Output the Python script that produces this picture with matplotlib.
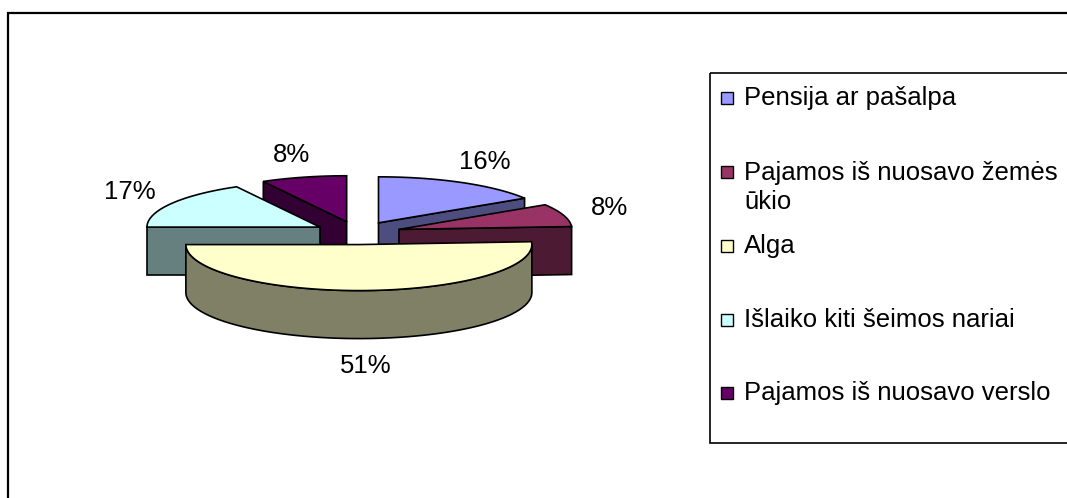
#!/usr/bin/env python3

import numpy as np
import matplotlib
matplotlib.use('Agg')
import matplotlib.pyplot as plt
from matplotlib.patches import Polygon, Rectangle

plt.rcParams['font.family'] = ['Liberation Sans', 'DejaVu Sans']

# data
categories = ['Pensija ar pašalpa', 'Pajamos iš nuosavo žemės\nūkio', 'Alga',
              'Išlaiko kiti šeimos nariai', 'Pajamos iš nuosavo verslo']
shares = np.array([16, 8, 51, 17, 8])
pct_labels = ['16%', '8%', '51%', '17%', '8%']
top_colors = ['#9999FF', '#993366', '#FFFFCC', '#CCFFFF', '#660066']
side_colors = ['#4D4D80', '#4D1A33', '#808066', '#668080', '#330033']

# layout (pixels)
W, H = 1067, 498
CX, CY = 357.5, 233.0
RX, RY = 173.0, 46.0
DEPTH = 48.0
EXPLODE = 0.252
FS = 18.5

fig = plt.figure(figsize=(W / 100, H / 100), dpi=100)
ax = fig.add_axes([0, 0, 1, 1])
ax.set_xlim(0, W)
ax.set_ylim(H, 0)
ax.axis('off')


def project(r, theta, z, off):
    ''' theta in degrees, clockwise from 12 o'clock '''
    phi = np.radians(theta)
    x = r * np.sin(phi) + off[0]
    y = r * np.cos(phi) + off[1]
    return (CX + RX * x, CY - RY * y + DEPTH * z)


def arc(t_a, t_b, z, off, n=80):
    return [project(1, t, z, off) for t in np.linspace(t_a, t_b, n)]


def add_poly(pts, color):
    ax.add_patch(Polygon(pts, closed=True, fc=color, ec='black', lw=1.2,
                         joinstyle='miter'))


total = shares.sum()
bounds = np.concatenate([[0], np.cumsum(shares)]) / total * 360
slices = []
for i in range(len(shares)):
    t1, t2 = bounds[i], bounds[i + 1]
    mid = 0.5 * (t1 + t2)
    off = (EXPLODE * np.sin(np.radians(mid)), EXPLODE * np.cos(np.radians(mid)))
    slices.append((i, t1, t2, mid, off))

# back slices first
for i, t1, t2, mid, off in sorted(slices, key=lambda s: -np.cos(np.radians(s[3]))):
    tip_top = project(0, 0, 0, off)
    tip_bot = project(0, 0, 1, off)
    # cut faces
    if np.sin(np.radians(t1)) < -1e-6:
        add_poly([tip_top, project(1, t1, 0, off), project(1, t1, 1, off), tip_bot], side_colors[i])
    if np.sin(np.radians(t2)) > 1e-6:
        add_poly([tip_top, project(1, t2, 0, off), project(1, t2, 1, off), tip_bot], side_colors[i])
    # outer wall, front half only
    a, b = max(t1, 90), min(t2, 270)
    if a < b:
        add_poly(arc(a, b, 0, off) + arc(b, a, 1, off), side_colors[i])
    # top
    add_poly([tip_top] + arc(t1, t2, 0, off), top_colors[i])

    # percentage label
    s, c = np.sin(np.radians(mid)), np.cos(np.radians(mid))
    lx = CX + RX * (off[0] + 1.28 * s)
    ly = CY - RY * (off[1] + 1.5 * c) + (DEPTH + 4 if c < 0 else 0)
    ax.text(lx, ly, pct_labels[i], fontsize=FS, ha='center', va='center')

# chart frame
ax.plot([8, 8, W + 10], [H + 10, 13, 13], color='black', lw=1.6, solid_joinstyle='miter')

# legend
ax.add_patch(Rectangle((710, 73), 420, 370, fill=False, ec='black', lw=1.2))
legend_y = [97.5, 187.5, 246, 320, 393]
for label, y, color in zip(categories, legend_y, top_colors):
    nlines = label.count('\n') + 1
    my = y - (nlines - 1) * 15.5
    ax.add_patch(Rectangle((721, my - 6), 12, 12, fc=color, ec='black', lw=1.0))
    ax.text(744, y, label, fontsize=FS, ha='left', va='center', linespacing=1.25)

fig.savefig('out.png', dpi=100)
